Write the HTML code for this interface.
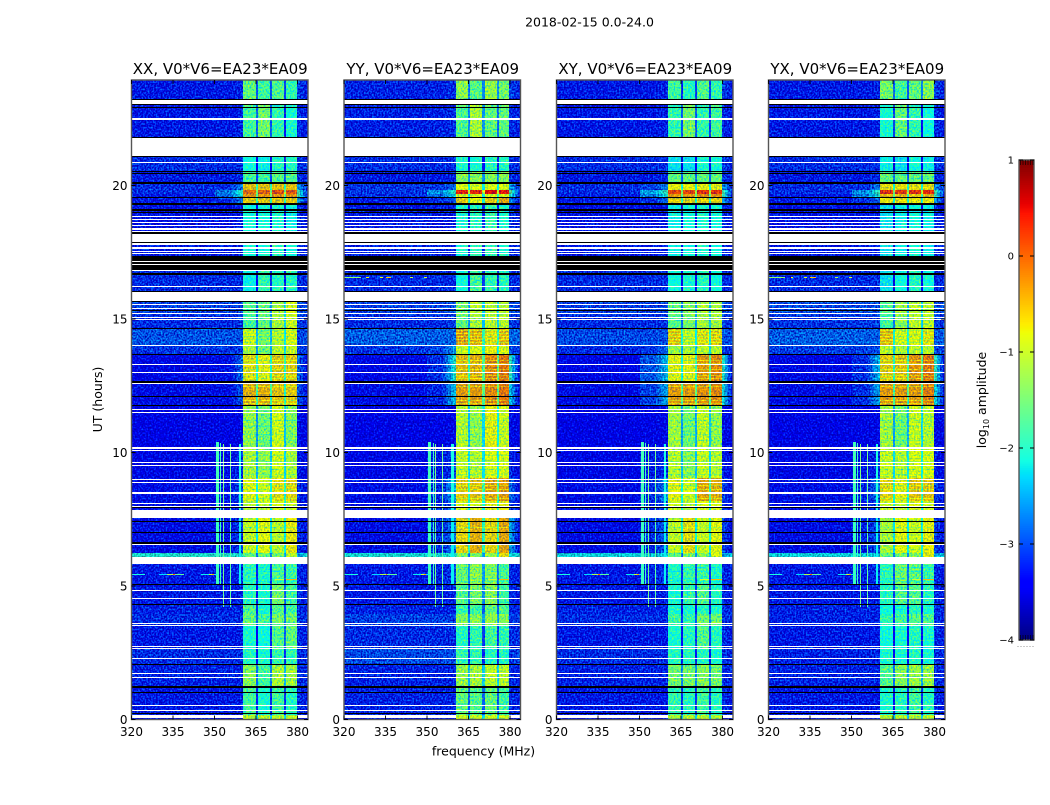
<!DOCTYPE html>
<html lang="en">
<head>
<meta charset="utf-8">
<title>2018-02-15 0.0-24.0</title>
<style>
html,body{margin:0;padding:0;background:#fff;}
body{width:1050px;height:800px;overflow:hidden;}
svg text{font-family:"DejaVu Sans","Liberation Sans",sans-serif;fill:#000;}
</style>
</head>
<body>
<svg id="figure" xmlns="http://www.w3.org/2000/svg" width="1050" height="800" viewBox="0 0 1050 800">
  <defs id="defs"></defs>
  <text x="589.5" y="26.5" text-anchor="middle" font-size="12.5">2018-02-15 0.0-24.0</text>
  <text transform="translate(102,399.5) rotate(-90)" text-anchor="middle" font-size="12.5">UT (hours)</text>
  <text x="483.5" y="755.5" text-anchor="middle" font-size="12.5">frequency (MHz)</text>
  <text transform="translate(986,400) rotate(-90)" text-anchor="middle" font-size="12.5">log<tspan font-size="8" dy="3">10</tspan><tspan dy="-3"> amplitude</tspan></text>
</svg>
<script>
// ---------- chart data (hours, MHz, log10 amplitude) ----------
const panelTitles = ["XX, V0*V6=EA23*EA09","YY, V0*V6=EA23*EA09","XY, V0*V6=EA23*EA09","YX, V0*V6=EA23*EA09"];
const xTicks = [320,335,350,365,380];
const yTicks = [0,5,10,15,20];
const cbarTicks = [1,0,-1,-2,-3,-4];
// upper hour edge of each time block
const blockTops = [24,23.07,21.79,20.55,20.05,19.84,19.67,19.53,19.33,18.19,17.36,16.01,15.15,14.65,14.03,13.69,12.68,11.75,10.17,9.05,8.2,7.55,6.24,5.84,5.07,4.33,3.95,3.55,2.65,2.04,1.25,0.17];
// frequency columns: background, shoulder A, shoulder B, sub-bands 1-4, tail
const columnEdges = [[320,350],[350,355],[355,360.3],[360.3,364.9],[365.7,370],[370.8,375.2],[376,379.8],[379.8,384]];
const gapEdges = [[364.9,365.7],[370,370.8],[375.2,376]];
const gapDrop = 1.35;
const xxLevels = [
[-3.1,-3.1,-3.05,-1.5,-1.7,-1.6,-1.8,-2.9],[-3.1,-3.1,-3.05,-1.7,-1.4,-1.8,-2.0,-3.0],[-3.0,-3.0,-3.0,-2.1,-2.2,-1.9,-1.9,-2.95],[-3.1,-3.1,-3.0,-1.7,-1.7,-1.6,-1.6,-2.95],
[-3.0,-3.0,-2.6,-0.45,-0.45,-0.45,-0.45,-2.5],[-3.0,-2.6,-2.0,0.0,0.05,0.15,0.1,-1.9],[-3.1,-2.7,-2.1,-0.2,-0.2,-0.2,-0.2,-1.9],[-3.1,-3.0,-2.6,-0.5,-0.5,-0.5,-0.5,-2.4],
[-3.15,-3.15,-3.1,-2.1,-2.1,-2.0,-2.2,-3.0],[-3.1,-3.1,-3.1,-2.1,-2.1,-1.9,-2.1,-3.0],[-3.0,-3.0,-3.0,-2.2,-1.8,-1.9,-1.9,-3.0],[-2.9,-2.9,-2.85,-1.6,-1.5,-1.1,-0.8,-2.8],
[-3.0,-3.0,-2.95,-1.7,-1.5,-1.1,-0.9,-2.9],[-2.8,-2.8,-2.8,-0.85,-1.3,-0.95,-0.75,-2.9],[-2.95,-2.95,-2.95,-1.1,-1.4,-1.0,-0.95,-2.9],[-3.25,-3.2,-2.7,-0.6,-0.7,-0.5,-0.5,-2.7],
[-3.2,-3.2,-2.8,-0.35,-0.35,-0.45,-0.5,-2.8],[-3.3,-3.3,-3.25,-1.2,-1.4,-0.85,-1.3,-3.2],[-3.25,-3.2,-3.0,-1.05,-1.2,-0.85,-1.05,-3.1],[-3.2,-3.15,-2.8,-0.75,-0.85,-0.6,-0.55,-3.0],
[-3.2,-3.2,-2.9,-1.0,-1.0,-0.8,-0.9,-3.0],[-3.2,-3.15,-2.9,-0.95,-0.75,-1.0,-0.65,-3.0],[-2.1,-2.1,-2.1,-1.5,-1.5,-1.4,-1.0,-2.4],[-3.1,-3.1,-3.0,-1.8,-1.9,-1.6,-1.7,-3.0],
[-3.1,-3.1,-3.05,-1.9,-2.0,-1.4,-1.7,-3.0],[-3.05,-3.05,-3.05,-1.6,-2.0,-1.6,-1.7,-3.0],[-3.0,-3.0,-3.0,-1.5,-1.7,-1.4,-1.4,-2.95],[-3.1,-3.1,-3.1,-2.0,-2.1,-1.6,-1.5,-3.0],
[-3.0,-3.0,-3.0,-1.9,-2.0,-1.8,-1.8,-3.0],[-3.05,-3.05,-3.05,-1.3,-1.7,-1.1,-1.15,-3.0],[-3.1,-3.1,-3.1,-1.7,-2.0,-1.7,-1.9,-3.0],[-3.2,-3.2,-3.2,-1.0,-1.0,-1.0,-1.0,-3.1]];
const yyLevels = [
[-3.05,-3.05,-3.0,-1.25,-1.55,-1.2,-1.4,-2.9],[-3.05,-3.05,-3.0,-1.6,-1.1,-1.5,-1.5,-3.0],[-3.0,-3.0,-3.0,-2.0,-2.0,-1.9,-1.9,-3.0],[-3.1,-3.1,-3.0,-1.3,-1.3,-1.3,-1.3,-3.0],
[-2.95,-2.95,-2.7,-0.8,-0.85,-0.8,-0.8,-2.5],[-2.95,-2.5,-2.0,0.4,0.35,0.5,0.45,-1.8],[-3.0,-2.7,-2.2,-0.8,-0.8,-0.8,-0.8,-2.1],[-3.1,-3.0,-2.8,-0.5,-0.75,-0.5,-0.3,-2.6],
[-3.1,-3.1,-3.1,-2.0,-1.9,-1.8,-2.0,-3.0],[-3.05,-3.05,-3.05,-2.0,-1.9,-1.8,-2.0,-3.0],[-3.0,-3.0,-3.0,-2.1,-1.7,-1.8,-1.9,-3.0],[-2.9,-2.9,-2.8,-1.4,-1.0,-1.0,-1.0,-2.8],
[-3.0,-3.0,-2.9,-1.5,-1.1,-1.0,-1.0,-2.9],[-2.75,-2.75,-2.7,-0.25,-0.35,-0.6,-0.4,-2.7],[-2.95,-2.9,-2.5,-0.9,-0.8,-0.7,-0.8,-2.85],[-3.25,-3.0,-2.1,-0.4,-0.35,-0.15,-0.05,-2.0],
[-3.2,-3.05,-2.3,-0.25,-0.25,-0.15,-0.05,-2.3],[-3.3,-3.3,-3.25,-1.0,-1.2,-0.7,-0.9,-3.2],[-3.25,-3.1,-2.9,-0.9,-1.0,-0.8,-0.8,-3.0],[-3.2,-3.0,-2.4,-0.5,-0.45,-0.3,-0.25,-2.7],
[-3.2,-3.1,-2.7,-0.8,-0.85,-0.7,-0.7,-2.9],[-3.2,-3.0,-2.6,-0.55,-0.35,-0.55,-0.3,-2.4],[-2.15,-2.15,-2.1,-1.4,-1.3,-1.2,-0.6,-2.2],[-3.1,-3.05,-2.9,-1.4,-1.2,-1.3,-1.6,-3.0],
[-3.1,-3.1,-3.0,-1.6,-1.4,-1.3,-1.7,-3.0],[-3.05,-3.05,-3.05,-1.8,-1.7,-1.5,-1.6,-3.0],[-2.9,-2.9,-2.9,-1.3,-1.3,-1.2,-1.3,-2.95],[-3.0,-3.0,-3.0,-1.9,-1.8,-1.7,-1.8,-3.0],
[-2.85,-2.85,-2.85,-1.8,-1.8,-1.9,-1.9,-3.0],[-3.05,-3.05,-3.05,-1.2,-1.1,-1.0,-1.0,-3.0],[-3.05,-3.05,-3.05,-1.5,-1.6,-1.5,-1.7,-3.0],[-3.2,-3.2,-3.2,-0.9,-0.9,-0.9,-0.9,-3.1]];
const xyLevels = [
[-3.1,-3.1,-3.05,-1.7,-1.9,-1.6,-1.8,-2.9],[-3.1,-3.1,-3.05,-1.8,-1.4,-1.8,-1.7,-3.0],[-3.0,-3.0,-3.0,-2.3,-2.3,-2.0,-2.0,-2.95],[-3.1,-3.1,-3.0,-1.5,-1.5,-1.5,-1.5,-2.95],
[-3.0,-2.9,-2.6,-0.7,-0.7,-0.7,-0.7,-2.5],[-3.0,-2.4,-1.95,0.2,0.2,0.3,0.3,-1.9],[-3.1,-2.6,-2.1,-0.25,-0.25,-0.2,-0.2,-2.0],[-3.1,-3.0,-2.7,-0.55,-0.55,-0.55,-0.55,-2.5],
[-3.15,-3.15,-3.1,-2.2,-2.1,-2.0,-2.1,-3.0],[-3.1,-3.1,-3.1,-2.2,-2.1,-2.0,-2.1,-3.0],[-3.0,-3.0,-3.0,-2.1,-2.0,-1.9,-2.1,-3.0],[-2.9,-2.9,-2.85,-1.5,-1.3,-1.1,-1.1,-2.8],
[-3.0,-3.0,-2.95,-1.6,-1.4,-1.1,-1.1,-2.9],[-2.85,-2.85,-2.8,-0.45,-0.9,-0.6,-0.5,-2.8],[-3.0,-2.95,-2.7,-1.2,-1.1,-1.0,-1.0,-2.9],[-3.25,-2.8,-2.3,-0.7,-0.7,-0.25,-0.15,-2.1],
[-3.2,-2.9,-2.4,-0.25,-0.25,-0.2,-0.15,-2.2],[-3.3,-3.3,-3.25,-1.1,-1.4,-0.95,-1.2,-3.2],[-3.25,-3.1,-3.0,-1.0,-1.25,-0.9,-1.0,-3.1],[-3.2,-3.0,-2.5,-0.7,-0.85,-0.3,-0.35,-2.9],
[-3.2,-3.1,-2.8,-0.9,-1.0,-0.8,-0.8,-3.0],[-3.2,-3.0,-2.7,-0.95,-0.6,-0.9,-0.75,-2.9],[-2.2,-2.2,-2.2,-1.5,-1.4,-1.3,-0.8,-2.4],[-3.1,-3.05,-2.95,-1.9,-1.7,-1.7,-1.9,-3.0],
[-3.1,-3.1,-3.05,-2.0,-1.8,-1.6,-1.9,-3.0],[-3.05,-3.05,-3.05,-2.0,-2.0,-1.9,-2.0,-3.0],[-3.0,-3.0,-3.0,-1.7,-1.8,-1.4,-1.4,-2.95],[-3.1,-3.1,-3.1,-2.0,-1.9,-1.6,-1.9,-3.0],
[-3.0,-3.0,-3.0,-1.9,-1.9,-1.9,-2.0,-3.0],[-3.05,-3.05,-3.05,-1.4,-1.4,-1.3,-1.4,-3.0],[-3.1,-3.1,-3.1,-1.8,-1.9,-1.7,-1.9,-3.0],[-3.2,-3.2,-3.2,-1.1,-1.0,-1.0,-1.1,-3.1]];
const yxLevels = [
[-3.1,-3.1,-3.05,-1.4,-1.7,-1.5,-1.3,-2.9],[-3.1,-3.1,-3.05,-2.0,-1.5,-1.8,-2.1,-3.0],[-3.0,-3.0,-3.0,-2.2,-2.3,-2.1,-2.2,-2.95],[-3.1,-3.1,-3.0,-1.5,-1.5,-1.5,-1.5,-2.95],
[-3.0,-3.0,-2.6,-0.6,-0.6,-0.6,-0.6,-2.5],[-3.0,-2.5,-1.95,0.3,0.25,0.3,0.35,-1.9],[-3.1,-2.6,-2.1,-0.4,-0.4,-0.5,-0.4,-2.0],[-3.1,-3.0,-2.7,-0.65,-0.6,-0.65,-0.65,-2.5],
[-3.15,-3.15,-3.1,-2.3,-2.2,-2.1,-2.2,-3.0],[-3.1,-3.1,-3.1,-2.3,-2.2,-2.1,-2.2,-3.0],[-3.0,-3.0,-3.0,-2.3,-2.1,-1.9,-2.1,-3.0],[-2.85,-2.85,-2.8,-1.6,-1.2,-1.0,-1.0,-2.8],
[-2.95,-2.95,-2.9,-1.7,-1.3,-1.0,-1.0,-2.9],[-2.75,-2.75,-2.75,-0.4,-0.8,-0.75,-0.6,-2.8],[-2.9,-2.9,-2.85,-1.0,-1.1,-1.0,-1.0,-2.85],[-3.25,-3.0,-2.3,-0.5,-0.45,-0.2,-0.05,-2.0],
[-3.2,-3.0,-2.4,-0.25,-0.25,-0.25,-0.1,-2.2],[-3.3,-3.3,-3.25,-1.1,-1.4,-0.9,-1.0,-3.2],[-3.25,-3.15,-3.0,-0.9,-1.0,-0.8,-0.8,-3.1],[-3.2,-3.05,-2.6,-0.55,-0.7,-0.45,-0.45,-2.9],
[-3.2,-3.1,-2.9,-0.9,-0.95,-0.75,-0.85,-3.0],[-3.2,-3.05,-2.8,-1.1,-0.75,-0.9,-0.7,-2.9],[-2.2,-2.2,-2.2,-1.5,-1.4,-1.3,-0.7,-2.4],[-3.1,-3.05,-3.0,-1.8,-1.4,-1.5,-1.7,-3.0],
[-3.1,-3.1,-3.05,-1.9,-1.6,-1.6,-1.9,-3.0],[-3.05,-3.05,-3.05,-2.1,-2.0,-1.9,-2.0,-3.0],[-3.05,-3.05,-3.05,-1.8,-1.7,-1.6,-1.6,-3.0],[-3.1,-3.1,-3.1,-2.1,-2.0,-1.9,-2.0,-3.0],
[-3.05,-3.05,-3.05,-2.0,-2.0,-1.9,-2.0,-3.0],[-3.05,-3.05,-3.05,-1.6,-1.3,-1.2,-1.2,-3.0],[-3.1,-3.1,-3.1,-2.0,-1.9,-1.7,-1.9,-3.0],[-3.2,-3.2,-3.2,-1.0,-1.0,-1.0,-1.0,-3.1]];
const panelLevels = [xxLevels,yyLevels,xyLevels,yxLevels];
// hours with a darker row across the sub-bands
const stripeHours = [14.58,14.47,14.35,14.24,14.13,13.46,13.35,13.13,12.9,12.8,12.5,11.95,11.86,11.2,11.0,10.7,10.45,9.9,9.7,9.4,9.2,8.8,8.65,8.3,7.2,5.7,5.55,5.3,5.2];
const stripeDrop = 0.32;
// narrow-band interference: [fLow, fHigh, hourTop, hourBottom, level]
const rfiColumns = [[350.5,351.5,10.4,7.85,-1.85],[350.5,351.5,7.55,5.07,-1.9],[352.1,352.5,10.35,7.85,-1.9],[352.1,352.5,7.55,5.07,-1.9],[353.0,353.4,10.3,7.85,-1.5],[353.0,353.4,7.55,4.2,-1.6],[355.5,355.9,10.3,7.85,-1.6],[355.5,355.9,7.55,4.2,-1.7],[358.7,359.6,10.3,7.85,-2.1],[358.7,359.6,7.55,5.07,-2.2]];
// single-row interference at about 5.45 h: [fLow, fHigh, level]
const rfiRowHour = 5.45;
const rfiRowSpans = [[320,325,-2.1],[330,333,-2.3],[333,335,-1.2],[335,335.7,0.1],[335.7,339,-1.7],[345,348,-2.2],[348,349,-1.0],[349,349.7,-0.3],[349.7,351,-2.2]];
const rfiRow2Hour = 5.28;
const rfiRow2Spans = [[372,375,-1.0],[375.9,379.8,-0.4]];
// interference row at about 16.57 h, strongest in YY and YX: [fLow, fHigh, level]
const rfiRow3Hour = 16.57;
const rfiRow3Spans = [[320,326,-1.4],[328,329,-0.8],[333,334,-0.9],[335,337,-0.5],[344,345,-1.2],[349,350,-1.0]];
const rfiRow3Panels = [1,3];
// flagged rows: [hourTop, hourBottom]
const whiteRows = [[23.22,23.07],[22.54,22.50],[22.48,22.44],[21.79,21.10],[20.88,20.83],[18.85,18.81],[18.75,18.71],[18.63,18.60],[18.52,18.48],[18.39,18.35],[18.28,18.25],[18.19,17.90],[17.83,17.78],[17.68,17.63],[17.55,17.51],[17.47,17.43],[17.17,17.13],[17.06,17.02],[16.83,16.79],[16.24,16.19],[16.01,15.66],[15.56,15.51],[15.41,15.36],[15.21,15.17],[15.09,15.06],[14.99,14.95],[14.03,13.99],[13.30,13.27],[13.02,12.98],[12.60,12.55],[11.63,11.59],[11.51,11.47],[10.19,10.13],[10.08,10.04],[9.63,9.60],[9.53,9.48],[9.01,8.97],[8.90,8.86],[8.51,8.46],[8.10,8.06],[8.00,7.96],[7.85,7.55],[6.56,6.52],[6.09,5.84],[4.84,4.80],[4.54,4.50],[3.63,3.60],[3.54,3.49],[2.75,2.72],[2.67,2.63],[2.30,2.27],[1.74,1.70],[1.59,1.55],[0.54,0.51],[0.36,0.32]];
const blackRows = [[23.25,23.21],[23.07,23.03],[22.94,22.89],[21.83,21.79],[21.10,21.07],[20.55,20.52],[20.48,20.43],[20.12,20.07],[19.57,19.53],[19.33,19.26],[19.11,19.06],[19.02,19.0],[18.24,18.19],[17.90,17.86],[17.36,17.19],[17.13,17.06],[17.02,16.85],[16.72,16.65],[16.05,16.01],[15.67,15.64],[15.34,15.30],[14.66,14.63],[13.69,13.65],[12.68,12.62],[12.12,12.08],[11.78,11.73],[7.96,7.92],[7.43,7.40],[7.02,6.98],[6.65,6.59],[5.07,5.04],[4.33,4.28],[2.08,2.04],[1.25,1.19],[1.02,0.99],[0.24,0.19]];
// bottom flagged row leaves the sub-bands visible: [hourTop, hourBottom, fLow, fHigh]
const partialWhiteRows = [[0.15,0.04,320,360.3],[0.15,0.04,379.8,384]];

// ---------- geometry ----------
const panelLefts = [131.5,344,556.5,768.5];
const panelWidth = 176.5;
const plotTop = 80, plotBottom = 719.5;
const xScale = (left,f) => left + (f-320)*2.767;
const yScale = h => 719.5 - h*26.7;
const levelToUnit = v => (v+4)/5;
const shoulderSteps = 6;
const tailSteps = 4;
const SVGNS = "http://www.w3.org/2000/svg";

function interp(points,t){
  for(let i=1;i<points.length;i++){
    if(t<=points[i][0]){
      const a=points[i-1], b=points[i];
      return a[1]+(b[1]-a[1])*(t-a[0])/(b[0]-a[0]);
    }
  }
  return points[points.length-1][1];
}
const jetR=[[0,0],[0.35,0],[0.66,1],[0.89,1],[1,0.5]];
const jetG=[[0,0],[0.125,0],[0.375,1],[0.64,1],[0.91,0],[1,0]];
const jetB=[[0,0.5],[0.11,1],[0.34,1],[0.65,0],[1,0]];
function jet(v){
  const t=Math.max(0,Math.min(1,levelToUnit(v)));
  const c=p=>Math.round(255*interp(p,t));
  return "rgb("+c(jetR)+","+c(jetG)+","+c(jetB)+")";
}
function mk(tag,attrs,parent){
  const el=document.createElementNS(SVGNS,tag);
  for(const k in attrs) el.setAttribute(k,attrs[k]);
  parent.appendChild(el);
  return el;
}
function cell(parent,left,f0,f1,h0,h1,fill){
  const y0=Math.round(yScale(h0)), y1=Math.round(yScale(h1));
  const x0=Math.round(xScale(left,f0)), x1=Math.round(xScale(left,f1));
  return mk("rect",{x:x0,y:y0,width:Math.max(x1-x0,1),height:Math.max(y1-y0,1),fill:fill,"shape-rendering":"crispEdges"},parent);
}
// texture filter: adds a mottled offset to whatever colour the cells carry
function textureFilter(id,seed,left,matrix,amp){
  const f=mk("filter",{id:id,x:left,y:plotTop,width:panelWidth,height:plotBottom-plotTop,filterUnits:"userSpaceOnUse","color-interpolation-filters":"sRGB"},defs);
  mk("feTurbulence",{type:"fractalNoise",baseFrequency:"0.62 0.55",numOctaves:"1",seed:String(seed),result:"n"},f);
  mk("feColorMatrix",{in:"n",type:"matrix",values:matrix,result:"c"},f);
  mk("feComposite",{in:"SourceGraphic",in2:"c",operator:"arithmetic",k1:"0",k2:"1",k3:String(amp),k4:String(-amp/2),result:"m"},f);
  mk("feComposite",{in:"m",in2:"SourceAlpha",operator:"in"},f);
}

const fig=document.getElementById("figure");
const defs=document.getElementById("defs");
const bgMatrix="0 0 0 0 0.5  1 0 0 0 -0.1  0.6 0 0 0 0.13  0 0 0 0 1";
const bandMatrix="1 0 0 0 -0.08  0.5 0 0 0 0.25  -1 0 0 0 1  0 0 0 0 1";

panelTitles.forEach((title,p)=>{
  const left=panelLefts[p];
  const levels=panelLevels[p];

  const clip=mk("clipPath",{id:"clip"+p},defs);
  mk("rect",{x:left,y:plotTop,width:panelWidth,height:plotBottom-plotTop},clip);
  textureFilter("bgTex"+p,5+p*7,left,bgMatrix,1.5);
  textureFilter("bandTex"+p,9+p*5,left,bandMatrix,1.6);

  const panel=mk("g",{},fig);
  
  

  const heat=mk("g",{"clip-path":"url(#clip"+p+")"},panel);
  
  

  const bgLayer=mk("g",{filter:"url(#bgTex"+p+")"},heat);
  
  
  const bandLayer=mk("g",{filter:"url(#bandTex"+p+")"},heat);
  
  

  blockTops.forEach((top,b)=>{
    const bottom = b+1<blockTops.length ? blockTops[b+1] : 0;
    const row=levels[b];
    columnEdges.forEach((edge,c)=>{
      if(c===2 || c===7){
        const steps = c===2 ? shoulderSteps : tailSteps;
        const from = c===2 ? row[1] : row[7];
        const to = c===2 ? row[2] : row[0];
        for(let k=0;k<steps;k++){
          const a=edge[0]+(edge[1]-edge[0])*k/steps, z=edge[0]+(edge[1]-edge[0])*(k+1)/steps;
          const level = from+(to-from)*(steps>1?k/(steps-1):1);
          const r=cell(bgLayer,left,a,z,top,bottom,jet(level));
          
          
        }
      } else {
        const r=cell(c>=3?bandLayer:bgLayer,left,edge[0],edge[1],top,bottom,jet(row[c]));
        
        
      }
    });
    gapEdges.forEach((edge,g)=>{
      const r=cell(bandLayer,left,edge[0],edge[1],top,bottom,jet((row[3+g]+row[4+g])/2-gapDrop));
      
      
    });
  });

  stripeHours.forEach(h=>{
    let b=0;
    while(b+1<blockTops.length && blockTops[b+1]>h) b++;
    [3,4,5,6].forEach(c=>{
      const r=cell(bandLayer,left,columnEdges[c][0],columnEdges[c][1],h,h-0.037,jet(levels[b][c]-stripeDrop));
      
      
    });
  });

  rfiColumns.forEach(s=>{
    const r=cell(heat,left,s[0],s[1],s[2],s[3],jet(s[4]));
    
    
  });
  rfiRowSpans.forEach(s=>{
    const r=cell(heat,left,s[0],s[1],rfiRowHour,rfiRowHour-0.04,jet(s[2]));
    
    
  });
  rfiRow2Spans.forEach(s=>{
    const r=cell(heat,left,s[0],s[1],rfiRow2Hour,rfiRow2Hour-0.04,jet(s[2]));
    
    
  });
  if(rfiRow3Panels.indexOf(p)>=0){
    rfiRow3Spans.forEach(s=>{
      const r=cell(heat,left,s[0],s[1],rfiRow3Hour,rfiRow3Hour-0.04,jet(s[2]));
      
      
    });
  }

  whiteRows.forEach(s=>{
    const r=cell(heat,left,320,384,s[0],s[1],"#fff");
    
    
  });
  partialWhiteRows.forEach(s=>{
    const r=cell(heat,left,s[2],s[3],s[0],s[1],"#fff");
    
    
  });
  blackRows.forEach(s=>{
    const r=cell(heat,left,320,384,s[0],s[1],"#000");
    
    
  });

  const frame=mk("rect",{x:left,y:plotTop,width:panelWidth,height:plotBottom-plotTop,fill:"none",stroke:"#555","stroke-width":"1.4"},panel);
  
  

  xTicks.forEach(t=>{
    const x=xScale(left,t);
    const a=mk("path",{d:"M"+x+" "+plotBottom+"v-4M"+x+" "+plotTop+"v4",stroke:"#000","stroke-width":"0.9",fill:"none"},panel);
    
    
    const l=mk("text",{x:x,y:736,"text-anchor":"middle","font-size":"12"},panel);
    
    
    l.textContent=String(t);
  });
  yTicks.forEach(t=>{
    const y=yScale(t);
    const a=mk("path",{d:"M"+left+" "+y+"h4M"+(left+panelWidth)+" "+y+"h-4",stroke:"#000","stroke-width":"0.9",fill:"none"},panel);
    
    
    const l=mk("text",{x:left-4,y:y+4.4,"text-anchor":"end","font-size":"12"},panel);
    
    
    l.textContent=String(t);
  });

  const tt=mk("text",{x:left+panelWidth/2+0.5,y:74,"text-anchor":"middle","font-size":"15"},panel);
  
  
  tt.textContent=title;
});

// ---------- colorbar ----------
const cbLeft=1019, cbRight=1034, cbTop=160, cbBottom=640;
const cbY=v=>cbBottom-(v+4)*(cbBottom-cbTop)/5;
const cbar=mk("g",{},fig);


const cbSteps=256;
for(let i=0;i<cbSteps;i++){
  const v0=-4+5*i/cbSteps, v1=-4+5*(i+1)/cbSteps;
  const s=mk("rect",{x:cbLeft,y:cbY(v1),width:cbRight-cbLeft,height:cbY(v0)-cbY(v1)+0.6,fill:jet((v0+v1)/2)},cbar);
  
  
}
const cbFrame=mk("rect",{x:cbLeft,y:cbTop,width:cbRight-cbLeft,height:cbBottom-cbTop,fill:"none",stroke:"#555","stroke-width":"1.4"},cbar);


cbarTicks.forEach(t=>{
  const y=cbY(t);
  const a=mk("path",{d:"M"+cbLeft+" "+y+"h4M"+cbRight+" "+y+"h-4",stroke:"#000","stroke-width":"0.9",fill:"none"},cbar);
  
  
  const l=mk("text",{x:1014,y:y+3.6,"text-anchor":"end","font-size":"10"},cbar);
  
  
  l.textContent=(t<0?"\u2212":"")+Math.abs(t);
});
[0,1,2,3,4,5].forEach(i=>{
  const x=cbLeft+1.5+i*2.5;
  const top=mk("path",{d:"M"+x+" "+cbTop+"v5M"+x+" "+cbBottom+"v-5",stroke:"#000","stroke-width":"0.6",fill:"none"},cbar);
  
  
  const dot=mk("rect",{x:cbLeft-1.5+i*3,y:646,width:1,height:1,fill:"#999"},cbar);
  
  
});
</script>
</body>
</html>
